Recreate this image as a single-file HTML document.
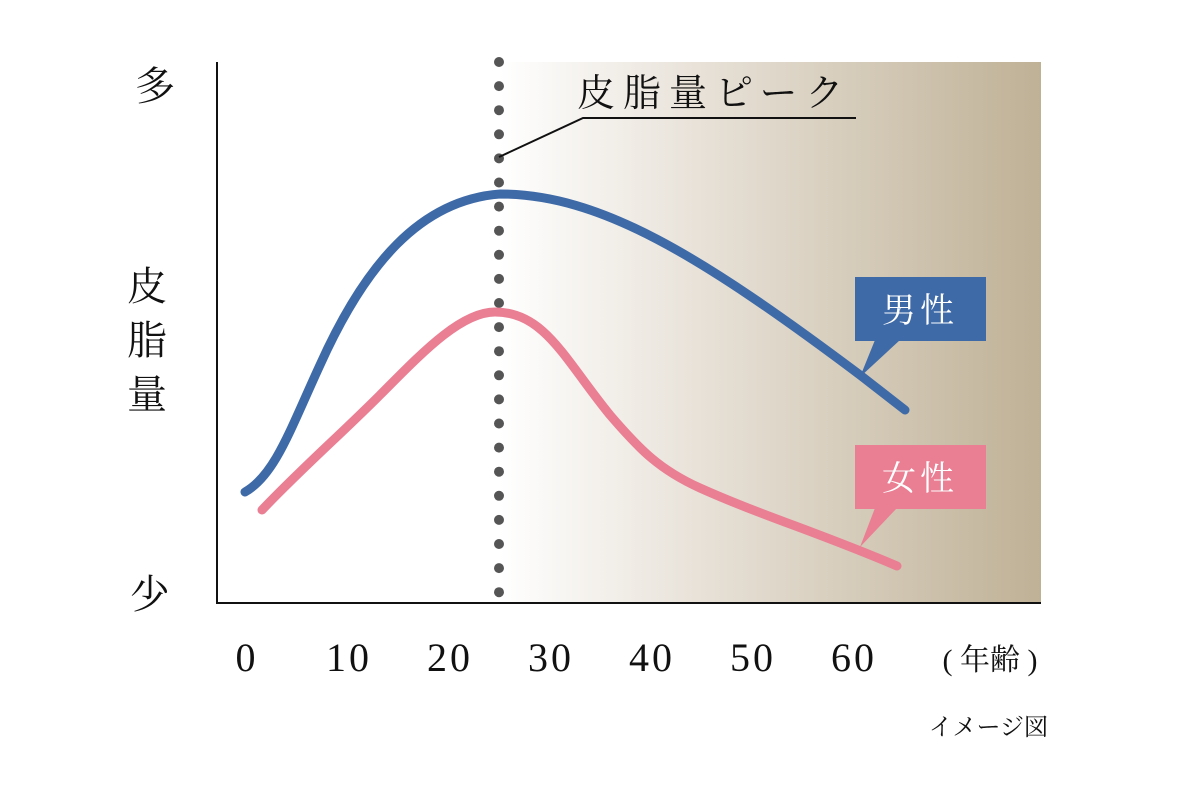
<!DOCTYPE html>
<html><head><meta charset="utf-8"><style>
body{margin:0;background:#fff}
svg text{font-family:"Liberation Serif","Noto Serif CJK JP","Noto Serif CJK SC",serif;fill:#111}
</style></head><body>
<svg width="1178" height="793" viewBox="0 0 1178 793" xmlns="http://www.w3.org/2000/svg">
<defs><linearGradient id="g" x1="0" x2="1" y1="0" y2="0">
<stop offset="0" stop-color="#ffffff"/><stop offset="0.35" stop-color="#e9e3da"/><stop offset="1" stop-color="#bfb196"/></linearGradient></defs>
<rect x="500" y="62" width="541" height="541" fill="url(#g)"/>
<line x1="217" y1="62" x2="217" y2="604" stroke="#111" stroke-width="2"/>
<line x1="216" y1="603" x2="1041" y2="603" stroke="#111" stroke-width="2"/>
<line x1="499" y1="62" x2="499" y2="604" stroke="#555" stroke-width="10" stroke-linecap="round" stroke-dasharray="0 24.1"/>
<polyline points="499,157 583,118 856,118" fill="none" stroke="#111" stroke-width="2"/>
<text x="577" y="106" font-size="38" letter-spacing="8">皮脂量ピーク</text>
<path d="M245,492 C275,475 290,430 320,365 C365,265 420,200 500,194 C600,194 700,255 860,375 L905,410" fill="none" stroke="#3e6aa8" stroke-width="9" stroke-linecap="round"/>
<path d="M262,510 C300,470 340,435 380,395 C420,355 460,312 495,312 C545,312 565,360 610,415 C640,450 660,470 700,488 C760,515 820,533 897,566" fill="none" stroke="#ea7e93" stroke-width="9" stroke-linecap="round"/>
<rect x="855" y="277" width="131" height="64" fill="#3e6aa8"/>
<polygon points="875,340 900,340 860,377" fill="#3e6aa8"/>
<text x="920" y="322" font-size="34" style="fill:#fff" text-anchor="middle" letter-spacing="4">男性</text>
<rect x="855" y="445" width="131" height="64" fill="#ea7e93"/>
<polygon points="875,508 897,508 860,547" fill="#ea7e93"/>
<text x="920" y="490" font-size="34" style="fill:#fff" text-anchor="middle" letter-spacing="4">女性</text>
<g font-size="40" text-anchor="middle">
<text x="155" y="100">多</text>
<text x="147" y="300">皮</text>
<text x="147" y="354">脂</text>
<text x="147" y="408">量</text>
<text x="150" y="608">少</text>
</g>
<g font-size="40" text-anchor="middle" letter-spacing="3">
<text x="247" y="671">0</text><text x="349" y="671">10</text><text x="450" y="671">20</text><text x="551" y="671">30</text><text x="652" y="671">40</text><text x="753" y="671">50</text><text x="854" y="671">60</text>
</g>
<text x="990" y="670" font-size="30" text-anchor="middle">(&#160;年齢&#160;)</text>
<text x="1048" y="735" font-size="24" text-anchor="end">イメージ図</text>
</svg>
</body></html>
